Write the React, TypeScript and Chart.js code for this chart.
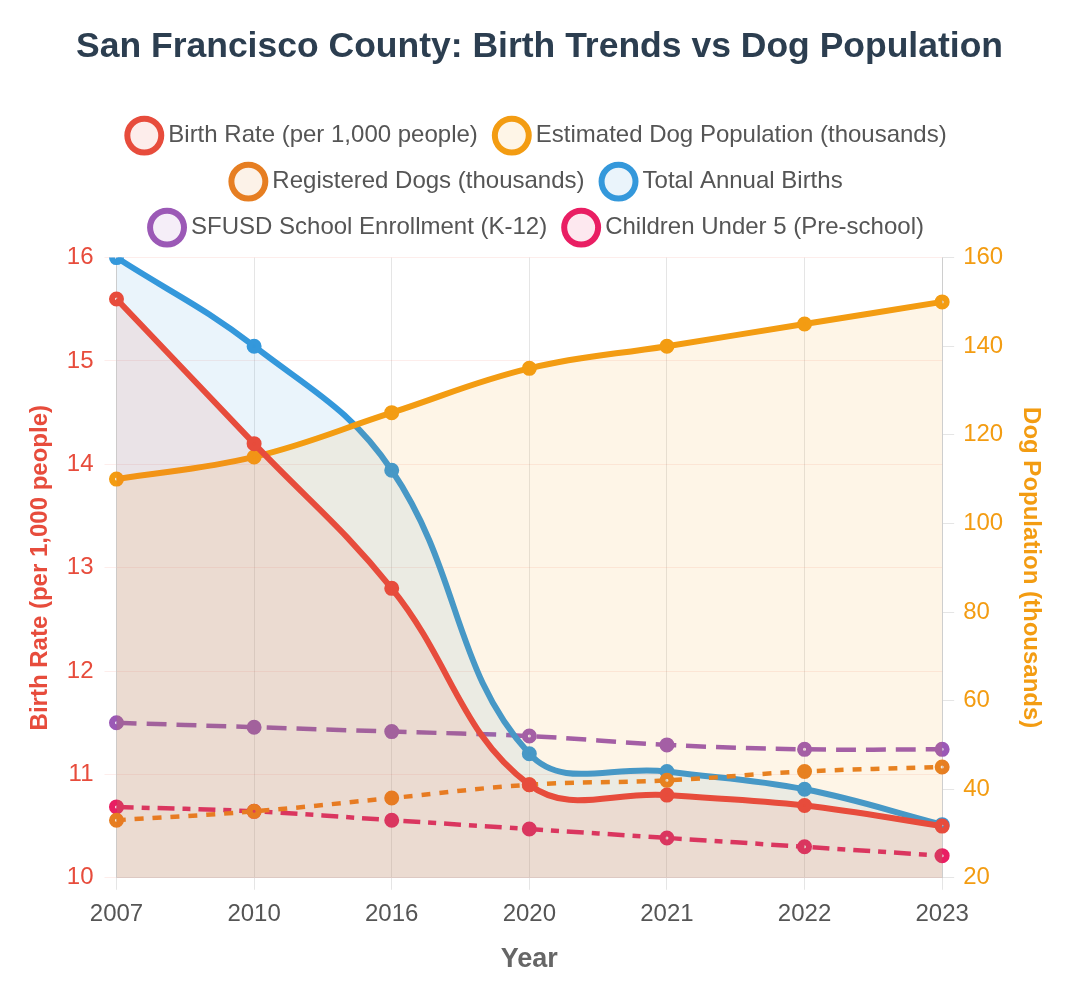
import React, { useEffect, useRef } from 'react';
import Chart from 'chart.js/auto';

const years = ['2007', '2010', '2016', '2020', '2021', '2022', '2023'];
const birthRate = [15.6, 14.2, 12.8, 10.9, 10.8, 10.7, 10.5];
const dogPopulation = [110, 115, 125, 135, 140, 145, 150];
const registeredDogs = [33, 35, 38, 41, 42, 44, 45];
const totalBirths = [160, 140, 112, 48, 44, 40, 32];
const schoolEnrollment = [55, 54, 53, 52, 50, 49, 49];
const childrenUnder5 = [36, 35, 33, 31, 29, 27, 25];

const FONT = "'Helvetica Neue', Helvetica, Arial, sans-serif";

// adds a little room between the legend and the plot area
const legendGap = {
  id: 'legendGap',
  beforeInit(chart: any) {
    const origFit = chart.legend.fit;
    chart.legend.fit = function fit() {
      origFit.bind(chart.legend)();
      this.height += 8;
    };
  },
};

const BirthDogChart: React.FC = () => {
  const chartRef = useRef<HTMLCanvasElement>(null);
  const chartInstance = useRef<Chart | null>(null);

  useEffect(() => {
    if (!chartRef.current) return;
    if (chartInstance.current) chartInstance.current.destroy();
    const ctx = chartRef.current.getContext('2d');
    if (!ctx) return;

    const solid = (label: string, data: number[], color: string, bg: string, axis: string) => ({
      label,
      data,
      borderColor: color,
      backgroundColor: bg,
      pointBackgroundColor: bg,
      pointBorderColor: color,
      pointRadius: 4.5,
      pointBorderWidth: 6,
      borderWidth: 6,
      tension: 0.4,
      fill: 'origin',
      yAxisID: axis,
    });

    const dashed = (label: string, data: number[], color: string, bg: string, dash: number[]) => ({
      label,
      data,
      borderColor: color,
      backgroundColor: bg,
      pointBackgroundColor: bg,
      pointBorderColor: color,
      pointRadius: 4.5,
      pointBorderWidth: 6,
      borderWidth: 4.5,
      borderDash: dash,
      tension: 0.4,
      fill: false,
      yAxisID: 'y1',
    });

    chartInstance.current = new Chart(ctx, {
      type: 'line',
      data: {
        labels: years,
        datasets: [
          solid('Birth Rate (per 1,000 people)', birthRate, '#e74c3c', 'rgba(231, 76, 60, 0.1)', 'y'),
          solid('Estimated Dog Population (thousands)', dogPopulation, '#f39c12', 'rgba(243, 156, 18, 0.1)', 'y1'),
          dashed('Registered Dogs (thousands)', registeredDogs, '#e67e22', 'rgba(230, 126, 34, 0.1)', [9, 9]),
          solid('Total Annual Births', totalBirths, '#3498db', 'rgba(52, 152, 219, 0.1)', 'y1'),
          dashed('SFUSD School Enrollment (K-12)', schoolEnrollment, '#9b59b6', 'rgba(155, 89, 182, 0.1)', [20, 10]),
          dashed('Children Under 5 (Pre-school)', childrenUnder5, '#e91e63', 'rgba(233, 30, 99, 0.1)', [17, 8, 8, 8]),
        ] as any,
      },
      options: {
        responsive: true,
        maintainAspectRatio: false,
        animation: false,
        layout: { padding: { left: 14, right: 11, top: 10, bottom: 16 } },
        plugins: {
          title: {
            display: true,
            text: 'San Francisco County: Birth Trends vs Dog Population',
            color: '#2c3e50',
            font: { family: FONT, size: 35.5, weight: 'bold' },
            padding: { top: 8, bottom: 33 },
          },
          legend: {
            labels: {
              usePointStyle: true,
              pointStyle: 'circle',
              color: '#555',
              padding: 22,
              font: { family: FONT, size: 24 },
            },
          },
          tooltip: { enabled: false },
        },
        scales: {
          x: {
            grid: { color: 'rgba(0, 0, 0, 0.1)', tickLength: 12 },
            ticks: { color: '#555', padding: 10, font: { family: FONT, size: 24 } },
            title: {
              display: true,
              text: 'Year',
              color: '#666',
              padding: { top: 5, bottom: 4 },
              font: { family: FONT, size: 27, weight: 'bold' },
            },
          },
          y: {
            type: 'linear',
            position: 'left',
            min: 10,
            max: 16,
            grid: { color: 'rgba(231, 76, 60, 0.1)', tickLength: 12 },
            ticks: { stepSize: 1, color: '#e74c3c', padding: 11, font: { family: FONT, size: 24 } },
            title: {
              display: true,
              text: 'Birth Rate (per 1,000 people)',
              color: '#e74c3c',
              padding: { top: 4, bottom: 1 },
              font: { family: FONT, size: 24, weight: 'bold' },
            },
          },
          y1: {
            type: 'linear',
            position: 'right',
            min: 20,
            max: 160,
            grid: { drawOnChartArea: false, color: 'rgba(0, 0, 0, 0.1)', tickLength: 12 },
            ticks: { stepSize: 20, color: '#f39c12', padding: 9, font: { family: FONT, size: 24 } },
            title: {
              display: true,
              text: 'Dog Population (thousands)',
              color: '#f39c12',
              padding: { top: 12, bottom: 4 },
              font: { family: FONT, size: 24, weight: 'bold' },
            },
          },
        },
      },
      plugins: [legendGap],
    });

    return () => {
      if (chartInstance.current) {
        chartInstance.current.destroy();
        chartInstance.current = null;
      }
    };
  }, []);

  return (
    <div style={{ position: 'relative', width: '100%', height: 988 }}>
      <canvas ref={chartRef}></canvas>
    </div>
  );
};

export default function App() {
  return <BirthDogChart />;
}
